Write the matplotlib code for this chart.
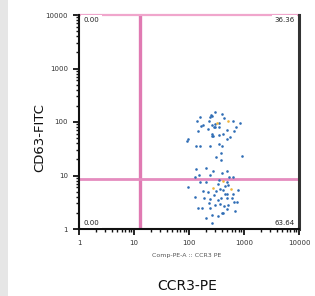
import matplotlib
matplotlib.use("Agg")
import matplotlib.pyplot as plt
from matplotlib.patches import Rectangle
from matplotlib.ticker import LogLocator, NullFormatter, FixedLocator, FixedFormatter

# ---- data (CCR3-PE vs CD63-FITC events) ----
blue_x = [301, 248, 259, 244, 394, 160, 439, 138, 228, 623, 301, 347, 182, 846,
          259, 285, 297, 165, 221, 347, 716, 148, 484, 666, 262, 277, 262, 347,
          421, 563, 491, 97, 91, 134, 158, 238, 356, 394, 382, 908, 306, 387,
          136, 204, 277, 484, 127, 152, 241, 356, 534, 631, 484, 97, 158, 204,
          333, 446, 518, 306, 366, 410, 182, 224, 451, 484, 639, 129, 190, 238,
          341, 377, 484, 598, 666, 736, 231, 301, 366, 439, 518, 148, 175, 244,
          484, 394, 421, 265, 333, 686, 201, 259, 394, 780, 282]
blue_y = [156, 135, 131, 126, 141, 122, 117, 104, 106, 104, 91, 95, 88, 95,
          87, 82, 80, 84, 75, 80, 82, 68, 70, 68, 59, 55, 55, 56,
          59, 53, 49, 49, 45, 36, 36, 36, 39, 36, 26, 23, 22, 19.5,
          13.2, 14.0, 12.1, 12.1, 9.5, 10.2, 10.2, 8.2, 9.2, 9.2, 7.7, 6.2, 7.5, 7.5,
          6.9, 6.4, 6.6, 5.1, 5.6, 5.4, 5.1, 4.9, 4.6, 4.5, 4.6, 4.0, 3.75, 3.6,
          3.5, 3.75, 3.75, 3.8, 3.2, 3.2, 3.0, 2.8, 2.9, 2.7, 2.8, 2.5, 2.5, 2.5,
          2.4, 1.96, 1.96, 1.83, 1.77, 2.2, 1.63, 1.28, 11.0, 5.4, 4.3]
yellow_x = [505, 319, 421, 273, 573]
yellow_y = [106, 97, 8.0, 5.8, 5.5]

quad_x = 12.9
quad_y = 8.6
quad_labels = ["0.00", "36.36", "0.00", "63.64"]
tick_vals = [1, 10, 100, 1000, 10000]
tick_text = ["1", "10", "100", "1000", "10000"]

W, H = 315, 296
fig = plt.figure(figsize=(W / 100, H / 100), dpi=100)
fig.patches.append(Rectangle((0, 0), 8 / W, 1, transform=fig.transFigure,
                             facecolor="#e6e6e6", edgecolor="none", zorder=-1))

ax = fig.add_axes([79 / W, 1 - 229 / H, 220 / W, 214 / H])
ax.set_xscale("log")
ax.set_yscale("log")
ax.set_xlim(1, 10000)
ax.set_ylim(1, 10000)

pink = "#e07ab2"
ax.axvline(quad_x, color=pink, lw=2.4, zorder=2)
ax.axhline(quad_y, color="#e58cbf", lw=2.0, zorder=2)
ax.axhline(10000, color="#f0a6cc", lw=1.6, zorder=2, clip_on=False)

ax.scatter(blue_x, blue_y, s=3.5, color="#2f6db5", linewidths=0, zorder=3)
ax.scatter(yellow_x, yellow_y, s=3.5, color="#f0b43a", linewidths=0, zorder=4)

bb = dict(facecolor="white", edgecolor="none", pad=1.8)
ax.text(0.02, 0.99, quad_labels[0], transform=ax.transAxes, fontsize=5,
        ha="left", va="top", color="#222222", bbox=bb, zorder=5)
ax.text(0.98, 0.99, quad_labels[1], transform=ax.transAxes, fontsize=5,
        ha="right", va="top", color="#222222", bbox=bb, zorder=5)
ax.text(0.02, 0.015, quad_labels[2], transform=ax.transAxes, fontsize=5,
        ha="left", va="bottom", color="#222222", bbox=bb, zorder=5)
ax.text(0.98, 0.015, quad_labels[3], transform=ax.transAxes, fontsize=5,
        ha="right", va="bottom", color="#222222", bbox=bb, zorder=5)

for s in ["left", "bottom"]:
    ax.spines[s].set_linewidth(1.5)
    ax.spines[s].set_color("#111111")
ax.spines["right"].set_linewidth(2.2)
ax.spines["right"].set_color("#333333")
ax.spines["top"].set_visible(False)

for axis in (ax.xaxis, ax.yaxis):
    axis.set_major_locator(FixedLocator(tick_vals))
    axis.set_major_formatter(FixedFormatter(tick_text))
    axis.set_minor_locator(LogLocator(base=10, subs=(2, 3, 4, 5, 6, 7, 8, 9)))
    axis.set_minor_formatter(NullFormatter())
ax.tick_params(which="major", length=4, width=1.3, labelsize=5, colors="#111111",
               pad=4)
ax.tick_params(which="minor", length=2, width=1.0, colors="#111111")
ax.tick_params(axis="both", labelcolor="#333333")

fig.text(187 / W, 1 - 256 / H, "Comp-PE-A :: CCR3 PE", fontsize=4.5,
         color="#555555", ha="center", va="center")
fig.text(187 / W, 1 - 286 / H, "CCR3-PE", fontsize=10, color="#111111",
         ha="center", va="center")
fig.text(40 / W, 1 - 138 / H, "CD63-FITC", fontsize=9.5, color="#111111",
         ha="center", va="center", rotation=90)

fig.savefig("out.png", dpi=100)
